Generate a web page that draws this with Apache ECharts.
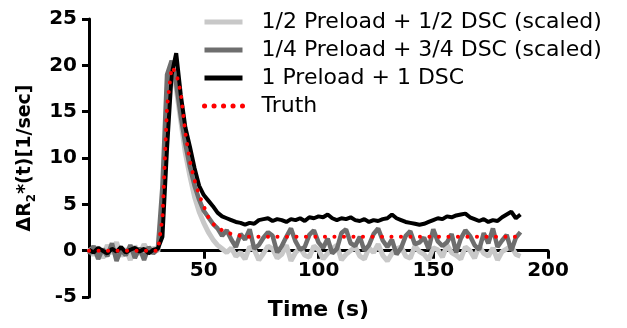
<!DOCTYPE html>
<html><head><meta charset="utf-8">
<script src="https://cdn.jsdelivr.net/npm/echarts@6/dist/echarts.min.js"></script>
<style>html,body{margin:0;padding:0;background:#fff}#c{width:627px;height:328px}</style>
</head><body><div id="c"></div>
<script>
// time samples (s)
var times = [0,2,4,6,8,10,12,14,16,18,20,22,24,26,28,30,32,34,36,38,40,42,44,46,48,50,52,54,56,58,60,62,64,66,68,70,72,74,76,78,80,82,84,86,88,90,92,94,96,98,100,102,104,106,108,110,112,114,116,118,120,122,124,126,128,130,132,134,136,138,140,142,144,146,148,150,152,154,156,158,160,162,164,166,168,170,172,174,176,178,180,182,184,186,188];
var halfPreload = [0.3,-0.5,0.4,-0.8,0.6,-0.3,0.9,-0.6,0.2,-1.0,0.5,-0.4,0.7,-0.2,0.3,-0.1,5,16,20,17.5,14,10.5,8,5.8,4.2,3.0,2.0,1.2,0.6,0.2,-0.2,0.3,-0.6,-0.2,-0.9,0.4,0.1,-1.0,-0.3,0.5,0.2,-0.8,-0.4,0.6,-1.1,-0.2,0.3,-0.5,-0.7,0.5,0.1,-0.9,-0.3,0.2,0.6,-1.0,-0.4,0.0,0.4,-0.6,-0.9,0.3,-0.2,0.7,-0.5,-1.1,-0.3,0.2,0.4,-0.6,-0.8,0.5,-0.1,-0.4,-1.0,0.3,0.1,-0.7,0.6,-0.2,-0.5,-0.9,0.4,0.0,-0.8,0.5,-0.3,-0.6,0.3,-1.0,-0.1,0.2,0.5,-0.4,-0.6];
var quarterPreload = [-0.4,0.5,-0.9,0.2,-0.6,0.8,-1.1,0.1,-0.5,0.6,-0.8,0.3,-1.0,0.4,-0.3,0.2,7,19,20.5,18,14.5,11.5,9,7,5.5,4.3,3.6,2.9,2.4,1.6,2.2,1.2,0.4,1.8,1.2,2.3,0.2,0.6,1.4,2.0,1.6,-0.2,0.5,1.5,2.4,1.0,0.1,0.4,1.7,2.2,0.9,0.3,1.3,-0.3,0.2,1.9,2.3,0.8,0.5,1.5,0.0,0.6,1.8,2.4,1.1,0.4,1.2,-0.4,0.3,1.6,2.1,0.7,0.9,1.4,0.2,2.3,1.0,0.5,0.9,1.8,-0.2,1.3,2.2,1.6,0.6,0.1,1.9,0.8,2.4,0.4,1.1,1.7,0.0,1.4,2.0];
var fullPreload = [0.1,-0.2,0.3,0.0,-0.3,0.2,-0.1,0.4,-0.2,0.1,0.3,-0.1,0.2,-0.3,0.1,0.2,1.5,11,19,21.3,16.8,13.3,11.2,8.9,7.0,6.0,5.4,4.8,4.1,3.7,3.5,3.3,3.1,3.0,2.8,3.0,2.9,3.3,3.4,3.5,3.2,3.4,3.3,3.1,3.4,3.3,3.5,3.2,3.6,3.5,3.7,3.6,3.9,3.5,3.3,3.5,3.4,3.6,3.3,3.2,3.4,3.1,3.3,3.2,3.4,3.5,3.9,3.5,3.3,3.1,3.0,2.9,2.8,2.9,3.1,3.3,3.5,3.4,3.7,3.6,3.8,3.9,4.0,3.6,3.4,3.2,3.4,3.1,3.3,3.2,3.6,3.9,4.2,3.5,3.9];
var truthTimes = [0,30,32,34,36,38,40,42,44,46,48,50,52,54,56,58,60,62,64,66,68,188];
var truth = [0,0,3.5,15.5,19.8,19.2,17,12.7,9.6,7.6,6.0,4.8,3.6,2.9,2.5,2.2,2.0,1.8,1.7,1.6,1.5,1.5];
var seriesNames = ['1/2 Preload + 1/2 DSC (scaled)','1/4 Preload + 3/4 DSC (scaled)','1 Preload + 1 DSC','Truth'];
var xTicks = {min:0,max:200,interval:50};
var yTicks = {min:-5,max:25,interval:5};

function pairs(t,v){return v.map(function(y,i){return [t[i],y];});}
var FONT='DejaVu Sans';
var GRID={left:89,right:79,top:19,bottom:31};
var plotH=328-GRID.top-GRID.bottom;
var zeroOffset=-(plotH*(0-yTicks.min)/(yTicks.max-yTicks.min));
var chart = echarts.init(document.getElementById('c'),null,{renderer:'canvas'});
chart.setOption({
  animation:false,
  backgroundColor:'#fff',
  grid:{left:GRID.left,right:GRID.right,top:GRID.top,bottom:GRID.bottom,containLabel:false,outerBoundsMode:'none'},
  legend:{orient:'vertical',left:197,top:6,itemWidth:38,itemHeight:14,itemGap:6,
    itemStyle:{opacity:0},lineStyle:{width:5},
    textStyle:{fontFamily:FONT,fontSize:22,color:'#000',padding:[0,0,0,14]},
    data:seriesNames},
  xAxis:{type:'value',min:xTicks.min,max:xTicks.max,interval:xTicks.interval,
    offset:zeroOffset,
    axisLine:{onZero:false,lineStyle:{color:'#000',width:3}},
    axisTick:{length:8,lineStyle:{color:'#000',width:3}},
    axisLabel:{showMinLabel:false,color:'#000',fontFamily:FONT,fontWeight:'bold',fontSize:20,margin:10},
    splitLine:{show:false},
    name:'Time (s)',nameLocation:'middle',nameGap:49,
    nameTextStyle:{fontFamily:FONT,fontWeight:'bold',fontSize:22,color:'#000'}},
  yAxis:{type:'value',min:yTicks.min,max:yTicks.max,interval:yTicks.interval,
    axisLine:{onZero:false,lineStyle:{color:'#000',width:3}},
    axisTick:{show:true,length:7,lineStyle:{color:'#000',width:3}},
    axisLabel:{color:'#000',fontFamily:FONT,fontWeight:'bold',fontSize:20,margin:12},
    splitLine:{show:false},
    name:'{a|ΔR}{s|2}{a|*(t)[1/sec]}',nameLocation:'middle',nameGap:37,nameRotate:90,
    nameTextStyle:{color:'#000',rich:{
      a:{fontFamily:FONT,fontWeight:'bold',fontSize:19,lineHeight:26,verticalAlign:'middle',color:'#000'},
      s:{fontFamily:FONT,fontWeight:'bold',fontSize:12,lineHeight:26,verticalAlign:'bottom',color:'#000'}}}},
  series:[
    {name:seriesNames[0],type:'line',symbol:'none',data:pairs(times,halfPreload),
      lineStyle:{color:'#c8c8c8',width:5},itemStyle:{color:'#c8c8c8'},z:2},
    {name:seriesNames[1],type:'line',symbol:'none',data:pairs(times,quarterPreload),
      lineStyle:{color:'#6e6e6e',width:4.5},itemStyle:{color:'#6e6e6e'},z:3},
    {name:seriesNames[2],type:'line',symbol:'none',data:pairs(times,fullPreload),
      lineStyle:{color:'#000',width:4},itemStyle:{color:'#000'},z:4},
    {name:seriesNames[3],type:'line',symbol:'none',data:pairs(truthTimes,truth),
      lineStyle:{color:'#ff0000',width:4,type:[0.1,9.4],cap:'round'},itemStyle:{color:'#ff0000'},z:5}
  ]
});
</script></body></html>
